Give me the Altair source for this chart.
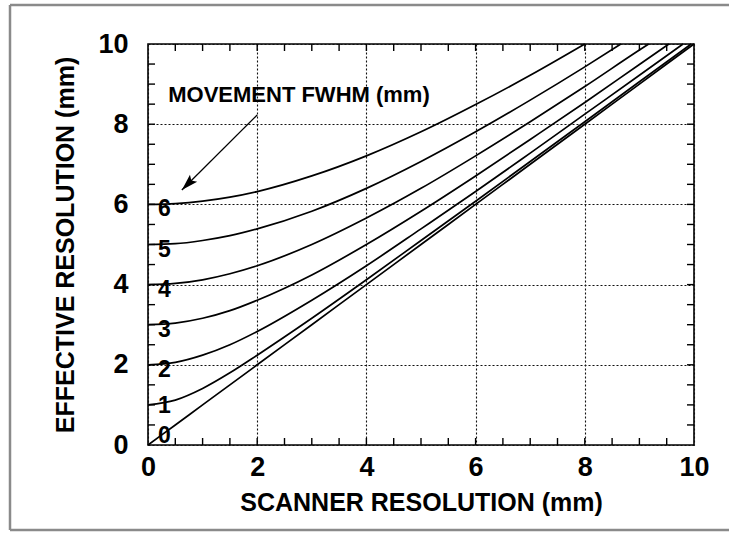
import altair as alt
import pandas as pd

# ---- data ----
x_ticks = [0, 2, 4, 6, 8, 10]
y_ticks = [0, 2, 4, 6, 8, 10]
minor_ticks = [0.5, 1, 1.5, 2, 2.5, 3, 3.5, 4, 4.5, 5, 5.5, 6, 6.5, 7, 7.5, 8, 8.5, 9, 9.5]

movement = [0, 1, 2, 3, 4, 5, 6]
curve_x = {
    0: [0, 0.5, 1, 1.5, 2, 3, 4, 5, 6, 7, 8, 9, 10],
    1: [0, 0.5, 1, 1.5, 2, 3, 4, 5, 6, 7, 8, 9, 9.95],
    2: [0, 0.5, 1, 1.5, 2, 3, 4, 5, 6, 7, 8, 9, 9.8],
    3: [0, 0.5, 1, 1.5, 2, 3, 4, 5, 6, 7, 8, 9, 9.54],
    4: [0, 0.5, 1, 1.5, 2, 3, 4, 5, 6, 7, 8, 9, 9.17],
    5: [0, 0.5, 1, 1.5, 2, 3, 4, 5, 6, 7, 8, 8.66],
    6: [0, 0.5, 1, 1.5, 2, 3, 4, 5, 6, 7, 8],
}
curve_y = {
    0: [0, 0.5, 1, 1.5, 2, 3, 4, 5, 6, 7, 8, 9, 10],
    1: [1.0, 1.12, 1.41, 1.8, 2.24, 3.16, 4.12, 5.1, 6.08, 7.07, 8.06, 9.06, 10],
    2: [2.0, 2.06, 2.24, 2.5, 2.83, 3.61, 4.47, 5.39, 6.32, 7.28, 8.25, 9.22, 10],
    3: [3.0, 3.04, 3.16, 3.35, 3.61, 4.24, 5.0, 5.83, 6.71, 7.62, 8.54, 9.49, 10],
    4: [4.0, 4.03, 4.12, 4.27, 4.47, 5.0, 5.66, 6.4, 7.21, 8.06, 8.94, 9.85, 10],
    5: [5.0, 5.02, 5.1, 5.22, 5.39, 5.83, 6.4, 7.07, 7.81, 8.6, 9.43, 10],
    6: [6.0, 6.02, 6.08, 6.18, 6.32, 6.71, 7.21, 7.81, 8.49, 9.22, 10],
}
label_text = ["0", "1", "2", "3", "4", "5", "6"]
label_x = [0.3, 0.3, 0.3, 0.3, 0.3, 0.3, 0.3]
label_y = [0.22, 0.97, 1.88, 2.87, 3.86, 4.87, 5.88]

note_text = ["MOVEMENT FWHM (mm)"]
note_x = [0.37]
note_y = [8.73]
arrow_x = [2.0, 0.62]
arrow_y = [8.23, 6.36]

W, H = 546, 401
FONT = "Liberation Sans"

rows = []
for m in movement:
    for xv, yv in zip(curve_x[m], curve_y[m]):
        rows.append({"m": m, "scanner": xv, "effective": yv})
curves = pd.DataFrame(rows)

xs = alt.Scale(domain=[0, 10], nice=False)
ys = alt.Scale(domain=[0, 10], nice=False)

common = dict(grid=True, gridDash=[2, 2], gridColor="#111", gridWidth=1.1, tickSize=0,
              domain=False, labelFlush=False,
              labelFont=FONT, labelFontSize=27, labelFontWeight="bold",
              titleFont=FONT, titleFontSize=25, titleFontWeight="bold",
              labelColor="black", titleColor="black", format="d")
x_axis = alt.Axis(values=x_ticks, title="SCANNER RESOLUTION (mm)",
                  labelPadding=9, titlePadding=10, **common)
y_axis = alt.Axis(values=y_ticks, title="EFFECTIVE RESOLUTION (mm)",
                  labelPadding=20, titlePadding=19, **common)


def X(field):
    return alt.X(field, scale=xs, axis=x_axis)


def Y(field):
    return alt.Y(field, scale=ys, axis=y_axis)


lines = alt.Chart(curves).mark_line(color="black", strokeWidth=1.7, interpolate="monotone").encode(
    x=X("scanner:Q"), y=Y("effective:Q"), detail="m:N",
)

ticks_df = pd.DataFrame({"t": minor_ticks})
tk = dict(color="black", strokeWidth=1.4)
tick_bottom = alt.Chart(ticks_df).mark_rule(**tk).encode(
    x=X("t:Q"), y=alt.value(H), y2=alt.value(H - 7))
tick_top = alt.Chart(ticks_df).mark_rule(**tk).encode(
    x=X("t:Q"), y=alt.value(0), y2=alt.value(7))
tick_left = alt.Chart(ticks_df).mark_rule(**tk).encode(
    y=Y("t:Q"), x=alt.value(0), x2=alt.value(7))
tick_right = alt.Chart(ticks_df).mark_rule(**tk).encode(
    y=Y("t:Q"), x=alt.value(W), x2=alt.value(W - 7))

labels = alt.Chart(pd.DataFrame({"x": label_x, "y": label_y, "t": label_text})).mark_text(
    font=FONT, fontSize=23, fontWeight="bold", color="black", align="center", baseline="middle"
).encode(x=X("x:Q"), y=Y("y:Q"), text="t:N")

note = alt.Chart(pd.DataFrame({"x": note_x, "y": note_y, "t": note_text})).mark_text(
    font=FONT, fontSize=22, fontWeight="bold", color="black", align="left", baseline="middle"
).encode(x=X("x:Q"), y=Y("y:Q"), text="t:N")

arrow_df = pd.DataFrame({"x": arrow_x, "y": arrow_y, "o": [0, 1]})
arrow_line = alt.Chart(arrow_df).mark_line(color="black", strokeWidth=1.3).encode(
    x=X("x:Q"), y=Y("y:Q"), order="o:Q")
arrow_head = alt.Chart(arrow_df.iloc[[1]]).mark_point(
    shape="M0,0L-0.4,1.3L0,1.05L0.4,1.3Z", filled=True, color="black", opacity=1,
    size=650, angle=225, strokeWidth=0
).encode(x=X("x:Q"), y=Y("y:Q"))

fr = dict(color="#8a8a8a", strokeWidth=2.5)
frame_left = alt.Chart(ticks_df.iloc[[0]]).mark_rule(clip=False, **fr).encode(
    x=alt.value(-138), y=alt.value(-39), y2=alt.value(486))
frame_top = alt.Chart(ticks_df.iloc[[0]]).mark_rule(clip=False, **fr).encode(
    x=alt.value(-138), x2=alt.value(600), y=alt.value(-39))
frame_bottom = alt.Chart(ticks_df.iloc[[0]]).mark_rule(clip=False, **fr).encode(
    x=alt.value(-138), x2=alt.value(600), y=alt.value(486))

chart = alt.layer(
    lines, tick_bottom, tick_top, tick_left, tick_right, labels, note,
    arrow_line, arrow_head, frame_left, frame_top, frame_bottom
).properties(
    width=W, height=H,
    autosize=alt.AutoSizeParams(type="none"),
    padding={"left": 148, "top": 44, "right": 35, "bottom": 88},
    background="white",
).configure_view(stroke="black", strokeWidth=1.6)

chart.save("out.html", embed_options={"renderer": "svg", "actions": False})
